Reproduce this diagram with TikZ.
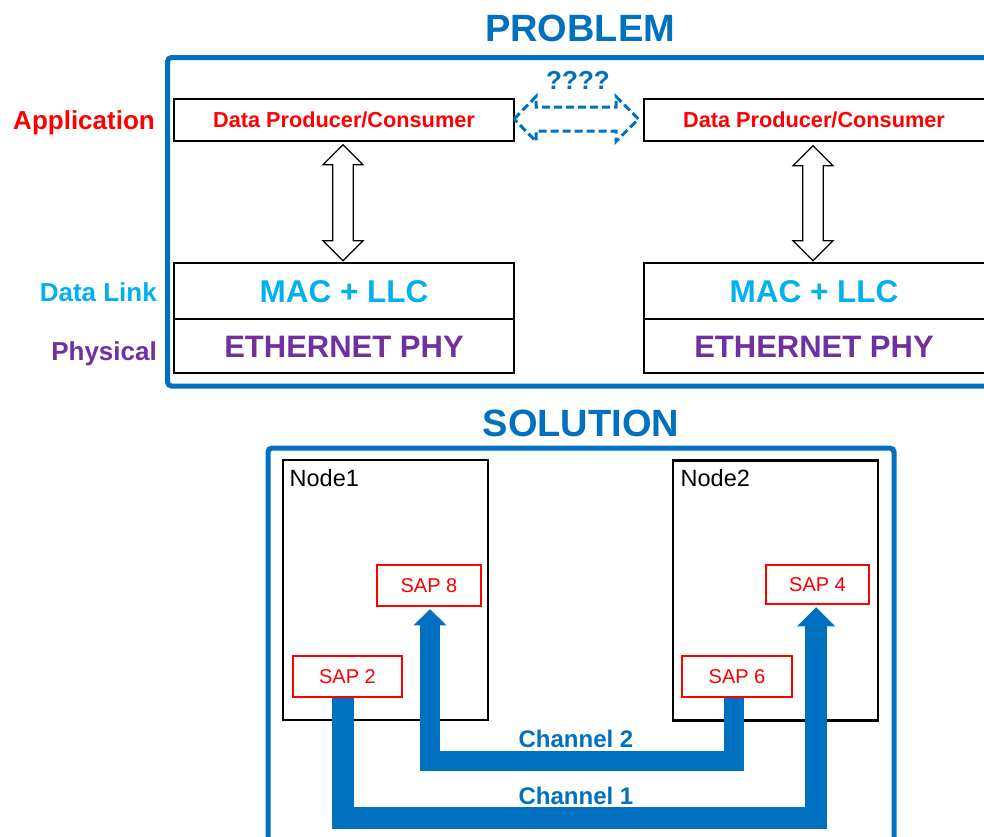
\documentclass[tikz,border=0pt]{standalone}
\usepackage{fontspec}
\setmainfont{Liberation Sans}
\usetikzlibrary{arrows.meta,calc}
\definecolor{osiblue}{HTML}{0070C0}
\definecolor{osired}{HTML}{FF0000}
\definecolor{osicyan}{HTML}{00B0F0}
\definecolor{osipurple}{HTML}{7030A0}
\newcommand{\fsz}[1]{\fontsize{#1}{#1}\selectfont}
% hollow vertical double arrow between two tip points
\newcommand{\dblarrowv}[2]{%
  \draw[hollowarrow] (#1) -- ($(#1)+(20,20)$) -- ($(#1)+(10.3,20)$)
    -- ($(#2)+(10.3,-20)$) -- ($(#2)+(20,-20)$) -- (#2)
    -- ($(#2)+(-20,-20)$) -- ($(#2)+(-10.3,-20)$)
    -- ($(#1)+(-10.3,20)$) -- ($(#1)+(-20,20)$) -- cycle;}
\begin{document}
\begin{tikzpicture}[x=1pt,y=-1pt,
  frame/.style={draw=osiblue, line width=5pt, rounded corners=4pt},
  title/.style={font=\fsz{38}\bfseries, text=osiblue, inner sep=0pt, anchor=base},
  layerlabel/.style={font=\fsz{26}\bfseries, inner sep=0pt, anchor=base east},
  appbox/.style={draw, line width=1.5pt, inner sep=0pt, minimum height=42pt,
    font=\fsz{21.7}\bfseries, text=osired, text height=15.5pt, text depth=0pt},
  macbox/.style={draw, line width=1.5pt, inner sep=0pt, minimum height=56pt,
    font=\fsz{31.5}\bfseries, text=osicyan, text height=22.6pt, text depth=0pt},
  phybox/.style={draw, line width=1.5pt, inner sep=0pt, minimum height=54pt,
    font=\fsz{31}\bfseries, text=osipurple, text height=22.2pt, text depth=0pt},
  hollowarrow/.style={draw=black, line width=1.2pt, fill=white, line join=miter},
  nodebox/.style={draw, line width=2.5pt, inner sep=0pt, minimum width=205pt, minimum height=260pt},
  nodelabel/.style={font=\fsz{23.5}, inner sep=0pt, anchor=base west},
  sapbox/.style={draw=osired, line width=2.5pt, inner sep=0pt, minimum height=41pt,
    font=\fsz{20}, text=osired, text height=14.3pt, text depth=0pt},
  chan/.style={draw=osiblue, line join=miter, line cap=butt},
  chanlabel/.style={font=\fsz{24}\bfseries, text=osiblue, inner sep=0pt, anchor=base}
]
\useasboundingbox (0,0) rectangle (984,836);
\clip (0,0) rectangle (984,836);

% ---------- upper panel ----------
\node[title] (ptitle) at (580,41) {PROBLEM};
\draw[frame] (167.5,57.5) rectangle (1000,386);

\node[layerlabel, text=osired] (lapp) at (155,129.5) {Application};
\node[layerlabel, text=osicyan] (ldl) at (157,301.7) {Data Link};
\node[layerlabel, text=osipurple] (lphy) at (157,360) {Physical};

\node[appbox, minimum width=340pt] (dpL) at (344,120) {Data Producer/Consumer};
\node[appbox, minimum width=344pt] (dpR) at (816,120) {\hspace*{-4pt}Data Producer/Consumer};
\node[macbox, minimum width=340pt] (macL) at (344,291) {MAC + LLC};
\node[macbox, minimum width=344pt] (macR) at (816,291) {\hspace*{-4pt}MAC + LLC};
\node[phybox, minimum width=340pt] (phyL) at (344,346) {ETHERNET PHY};
\node[phybox, minimum width=344pt] (phyR) at (816,346) {\hspace*{-4pt}ETHERNET PHY};

\coordinate (upL) at ($(dpL.south)+(-1,3)$);
\coordinate (dnL) at ($(macL.north)+(-1,-1.5)$);
\coordinate (upR) at ($(dpR.south)+(-3,4)$);
\coordinate (dnR) at ($(macR.north)+(-3,-1.5)$);
\dblarrowv{upL}{dnL}
\dblarrowv{upR}{dnR}

% unknown link between the two applications
\coordinate (qL) at ($(dpL.east)+(-0.7,-1)$);
\coordinate (qR) at ($(dpR.west)+(-4.7,-1)$);
\draw[osiblue, line width=3pt, dash pattern=on 8pt off 4pt, line join=miter]
  (qL) -- ($(qL)+(22,-22.5)$) -- ($(qL)+(22,-12)$) -- ($(qR)+(-22.5,-12)$)
  -- ($(qR)+(-22.5,-22.5)$) -- (qR) -- ($(qR)+(-22.5,22.5)$) -- ($(qR)+(-22.5,12)$)
  -- ($(qL)+(22,12)$) -- ($(qL)+(22,22.5)$) -- cycle;
\node[font=\fsz{26}\bfseries, text=osiblue, inner sep=0pt, anchor=base] (qq) at (578,89.3) {????};

% ---------- lower panel ----------
\node[title] (stitle) at (581,436.5) {SOLUTION};
\draw[frame] (268,448) rectangle (894,900);

\node[nodebox] (n1) at (385.5,590) {};
\node[nodebox] (n2) at (775.5,590.5) {};
\node[nodelabel] (n1l) at (289.5,486.5) {Node1};
\node[nodelabel] (n2l) at (680.5,486.5) {Node2};

\node[sapbox, minimum width=104pt] (sap8) at (429,585.5) {SAP 8};
\node[sapbox, minimum width=109pt] (sap2) at (347.5,676.5) {SAP 2};
\node[sapbox, minimum width=110pt] (sap6) at (737,676.5) {SAP 6};
\node[sapbox, minimum width=103pt, minimum height=39pt] (sap4) at (817.5,584.5) {SAP 4};

% channel 1: SAP 2 -> SAP 4
\draw[chan, line width=22pt, -{Triangle[width=38pt,length=19pt,line width=0pt]}]
  ($(sap2.south)+(-4.5,0)$) -- ++(0,119.5) -| ($(sap4.south)+(-1.5,2)$);
% channel 2: SAP 6 -> SAP 8
\draw[chan, line width=20pt, -{Triangle[width=33pt,length=16pt,line width=0pt]}]
  ($(sap6.south)+(-3.5,0)$) -- ++(0,63) -| ($(sap8.south)+(1,2)$);

\node[chanlabel] (c2l) at (576,747) {Channel 2};
\node[chanlabel] (c1l) at (576,804) {Channel 1};
\end{tikzpicture}
\end{document}
